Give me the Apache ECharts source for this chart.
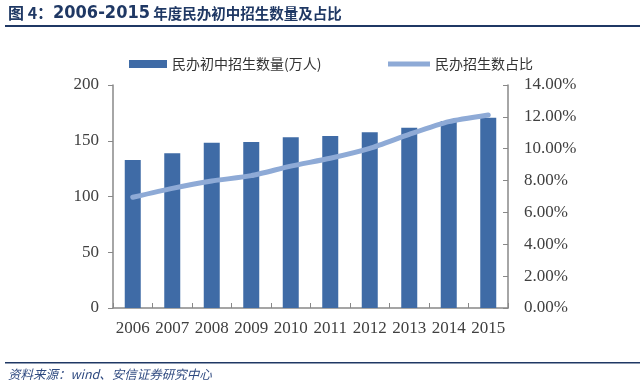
<!DOCTYPE html>
<html>
<head>
<meta charset="utf-8">
<script src="https://cdn.jsdelivr.net/npm/echarts@6/dist/echarts.min.js"></script>
<style>html,body{margin:0;padding:0;background:#fff;}#c{width:640px;height:385px;}</style>
</head>
<body>
<div id="c"></div>
<script>
var years = ['2006','2007','2008','2009','2010','2011','2012','2013','2014','2015'];
var enrollment = [132.7, 138.7, 148.3, 148.9, 153.1, 154.3, 157.6, 161.7, 167.7, 170.7];
var sharePct = [6.95, 7.51, 7.97, 8.31, 8.91, 9.40, 10.02, 10.90, 11.70, 12.12];
var barName = '民办初中招生数量(万人)';
var lineName = '民办招生数占比';
var titlePrefix = '图 4：';
var titleYears = '2006-2015';
var titleRest = ' 年度民办初中招生数量及占比';
var sourceText = '资料来源：wind、安信证券研究中心';

var chart = echarts.init(document.getElementById('c'), null, {renderer: 'canvas'});
var axisFont = {fontFamily: 'Liberation Serif', fontSize: 17, color: '#404040'};
chart.setOption({
  animation: false,
  backgroundColor: '#fff',
  graphic: [
    {type: 'text', left: 8, top: 4, style: {
      text: '{a|' + titlePrefix + '}{b|' + titleYears + '}{c|' + titleRest + '}',
      rich: {
        a: {fontFamily: 'Noto Sans CJK SC', fontWeight: 'bold', fontSize: 16, fill: '#1f3864', color: '#1f3864'},
        b: {fontFamily: 'DejaVu Sans Condensed', fontWeight: 'bold', fontSize: 18, fill: '#1f3864', color: '#1f3864'},
        c: {fontFamily: 'Noto Sans CJK SC', fontWeight: 'bold', fontSize: 14.5, fill: '#1f3864', color: '#1f3864'}
      }
    }},
    {type: 'rect', shape: {x: 5, y: 25, width: 635, height: 2}, style: {fill: '#1f3864'}},
    {type: 'rect', shape: {x: 5, y: 362, width: 635, height: 1.5}, style: {fill: '#1f3864'}},
    {type: 'text', left: 8, top: 368, style: {text: sourceText, font: 'italic 12.5px "Noto Sans CJK SC"', fill: '#2f4a80'}}
  ],
  legend: [
    {data: [{name: barName, icon: 'rect'}], left: 124, top: 52, itemWidth: 38, itemHeight: 8, itemGap: 6,
     textStyle: {fontFamily: 'Noto Sans CJK SC', fontSize: 14, color: '#333'}},
    {data: [{name: lineName, icon: 'rect'}], left: 383, top: 52, itemWidth: 42, itemHeight: 5, itemGap: 4,
     textStyle: {fontFamily: 'Noto Sans CJK SC', fontSize: 14, color: '#333'}}
  ],
  grid: {left: 113, right: 132, top: 85, bottom: 77, containLabel: false},
  xAxis: {
    type: 'category', data: years,
    axisLine: {lineStyle: {color: '#888', width: 1.5}},
    axisTick: {show: true, inside: true, length: 5, lineStyle: {color: '#888'}},
    axisLabel: Object.assign({margin: 12, interval: 0}, axisFont)
  },
  yAxis: [
    {type: 'value', min: 0, max: 200, interval: 50, splitLine: {show: false},
     axisLine: {show: true, lineStyle: {color: '#888', width: 1.5}},
     axisTick: {show: true, length: 5, lineStyle: {color: '#888'}},
     axisLabel: Object.assign({margin: 14}, axisFont)},
    {type: 'value', min: 0, max: 14, interval: 2, splitLine: {show: false}, position: 'right',
     axisLine: {show: true, lineStyle: {color: '#888', width: 1.5}},
     axisTick: {show: true, inside: true, length: 5, lineStyle: {color: '#888'}},
     axisLabel: Object.assign({margin: 16, formatter: function (v) { return v.toFixed(2) + '%'; }}, axisFont)}
  ],
  series: [
    {name: barName, type: 'bar', data: enrollment, barWidth: 16, itemStyle: {color: '#3f6ba6'}},
    {name: lineName, type: 'line', yAxisIndex: 1, data: sharePct, symbol: 'none', smooth: 0.2,
     lineStyle: {color: '#8eaad6', width: 5, cap: 'round'}, itemStyle: {color: '#8eaad6'}}
  ]
});
</script>
</body>
</html>
